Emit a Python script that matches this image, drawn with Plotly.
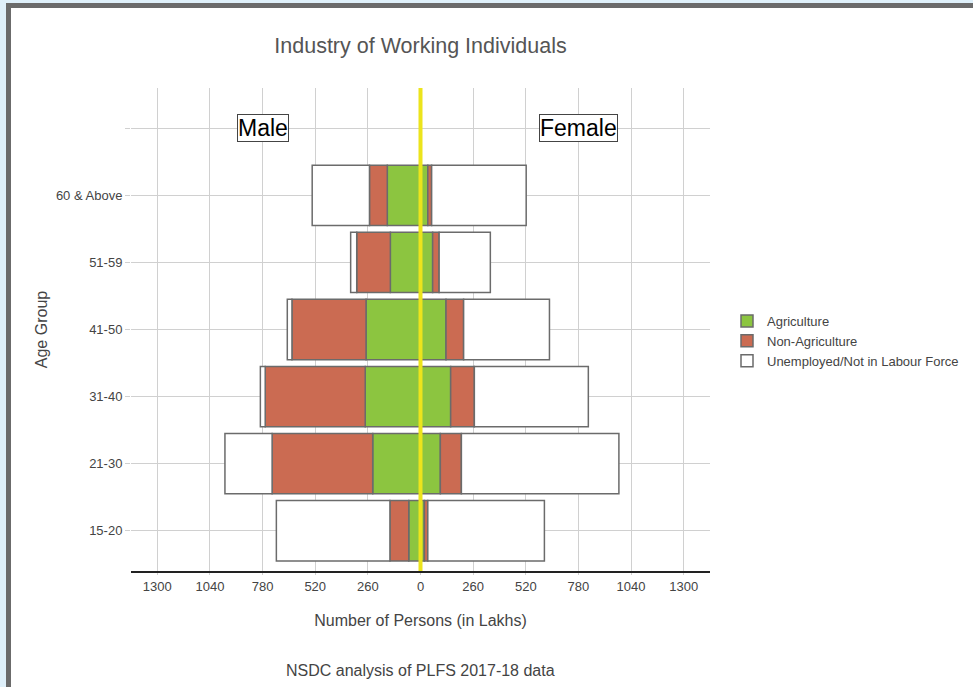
import plotly.graph_objects as go

age_groups = ['15-20', '21-30', '31-40', '41-50', '51-59', '60 & Above']
categories = age_groups + [' ']

male_agri = [58, 236, 273, 269, 149, 164]
male_nonagri = [93, 497, 494, 366, 166, 88]
male_unemp = [561, 233, 24, 23, 30, 283]

female_agri = [19, 98, 149, 126, 60, 36]
female_nonagri = [17, 104, 117, 87, 32, 19]
female_unemp = [576, 778, 563, 424, 253, 467]

tick_vals = [-1300, -1040, -780, -520, -260, 0, 260, 520, 780, 1040, 1300]
tick_text = [str(abs(v)) for v in tick_vals]

series = [
    ('Agriculture', '#8cc540', male_agri, female_agri),
    ('Non-Agriculture', '#cb6b52', male_nonagri, female_nonagri),
    ('Unemployed/Not in Labour Force', '#ffffff', male_unemp, female_unemp),
]

W, H = 973, 687
ml, mr, mt, mb = 131, 263, 88, 116
pw, ph = W - ml - mr, H - mt - mb


def px(x):
    return (x - ml) / pw


def py(y):
    return (H - mb - y) / ph


fig = go.Figure()

for name, color, male, female in series:
    fig.add_trace(go.Bar(
        y=age_groups, x=[-v for v in male], orientation='h',
        name=name, legendgroup=name, showlegend=False,
        marker=dict(color=color, line=dict(color='#6b6b6b', width=1.5)),
        width=0.9,
    ))
for name, color, male, female in series:
    fig.add_trace(go.Bar(
        y=age_groups, x=female, orientation='h',
        name=name, legendgroup=name, showlegend=True,
        marker=dict(color=color, line=dict(color='#6b6b6b', width=1.5)),
        width=0.9,
    ))

# yellow centre line
fig.add_shape(type='line', xref='x', yref='paper', x0=0, x1=0, y0=0, y1=1,
              line=dict(color='#ece41c', width=4))

# page frame seen in the screenshot
frame = [
    (0, 0, 6, H, '#dff0fa'),
    (0, 0, W, 3, '#dff0fa'),
    (6, 3, 11, H, '#6b6b6b'),
    (6, 3, W, 8, '#6b6b6b'),
]
for x0, y0, x1, y1, c in frame:
    fig.add_shape(type='rect', xref='paper', yref='paper',
                  x0=px(x0), x1=px(x1), y0=py(y1), y1=py(y0),
                  fillcolor=c, line=dict(width=0), layer='above')

annotations = [
    dict(text='Male', x=-780, y=' ', xref='x', yref='y', showarrow=False,
         font=dict(size=23, color='black', family='Arial'),
         bordercolor='#444444', borderwidth=1, borderpad=0, bgcolor='white'),
    dict(text='Female', x=780, y=' ', xref='x', yref='y', showarrow=False,
         font=dict(size=23, color='black', family='Arial'),
         bordercolor='#444444', borderwidth=1, borderpad=0, bgcolor='white'),
    dict(text='NSDC analysis of PLFS 2017-18 data', x=0.5, y=py(670),
         xref='paper', yref='paper', yanchor='middle', showarrow=False,
         font=dict(size=16, color='#444444')),
]

fig.update_layout(
    width=W, height=H,
    margin=dict(l=ml, r=mr, t=mt, b=mb, autoexpand=False),
    barmode='relative',
    bargap=0.1,
    paper_bgcolor='white',
    plot_bgcolor='white',
    font=dict(family='Arial', color='#444444'),
    title=dict(text='Industry of Working Individuals', xref='paper', x=0.5,
               xanchor='center', y=1 - 45 / H, yanchor='middle',
               font=dict(size=21.5, color='#555555')),
    annotations=annotations,
    legend=dict(x=px(727), y=py(341), xanchor='left', yanchor='middle',
                traceorder='normal', font=dict(size=13, color='#444444'),
                tracegroupgap=0),
    xaxis=dict(range=[-1430, 1430], tickvals=tick_vals, ticktext=tick_text,
               showgrid=True, gridcolor='#d0d0d0', gridwidth=1,
               zeroline=False, showline=True, linecolor='#222222', linewidth=2,
               ticks='outside', ticklen=2, tickcolor='#d0d0d0',
               tickfont=dict(size=13, color='#444444'),
               title=dict(text='Number of Persons (in Lakhs)',
                          font=dict(size=16, color='#444444'), standoff=22)),
    yaxis=dict(type='category', categoryorder='array', categoryarray=categories,
               range=[-0.6, 6.6], showgrid=True, gridcolor='#d0d0d0', gridwidth=1,
               zeroline=False, showline=False,
               ticks='outside', ticklen=5, tickcolor='#d0d0d0',
               tickfont=dict(size=13, color='#444444'),
               title=dict(text='Age Group', font=dict(size=16, color='#444444'),
                          standoff=4)),
)

# drop the default body margin so the figure sits at the window's corner
fig.write_html('out.html', config={'displayModeBar': False},
               post_script="document.body.style.margin='0px';")
